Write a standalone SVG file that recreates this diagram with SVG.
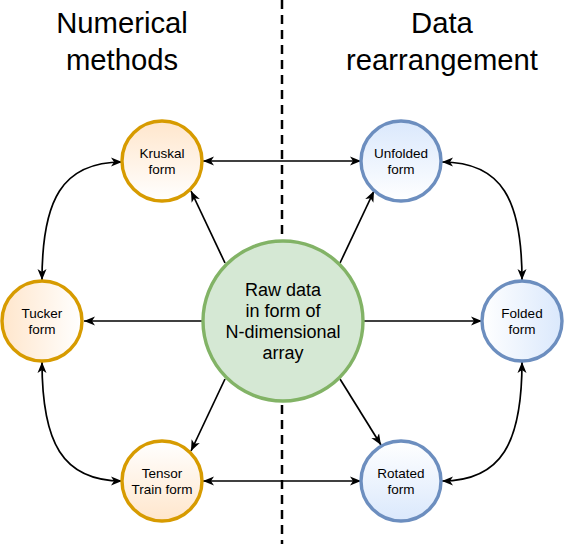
<svg xmlns="http://www.w3.org/2000/svg" width="564" height="544" viewBox="0 0 564 544">
<defs>
<linearGradient id="oN" x1="0" y1="0" x2="0" y2="1"><stop offset="0" stop-color="#ffe6cc"/><stop offset="1" stop-color="#ffffff"/></linearGradient>
<linearGradient id="oS" x1="0" y1="1" x2="0" y2="0"><stop offset="0" stop-color="#ffe6cc"/><stop offset="1" stop-color="#ffffff"/></linearGradient>
<linearGradient id="oW" x1="0" y1="0" x2="1" y2="0"><stop offset="0" stop-color="#ffe6cc"/><stop offset="1" stop-color="#ffffff"/></linearGradient>
<linearGradient id="bN" x1="0" y1="0" x2="0" y2="1"><stop offset="0" stop-color="#dae8fc"/><stop offset="1" stop-color="#ffffff"/></linearGradient>
<linearGradient id="bS" x1="0" y1="1" x2="0" y2="0"><stop offset="0" stop-color="#dae8fc"/><stop offset="1" stop-color="#ffffff"/></linearGradient>
<linearGradient id="bE" x1="1" y1="0" x2="0" y2="0"><stop offset="0" stop-color="#dae8fc"/><stop offset="1" stop-color="#ffffff"/></linearGradient>
<marker id="arr" markerUnits="userSpaceOnUse" markerWidth="12" markerHeight="10" viewBox="0 0 12 10" refX="11" refY="5" orient="auto-start-reverse">
<path d="M0,0.5 L11,5 L0,9.5 L3,5 Z" fill="#000"/>
</marker>
</defs>
<style>
.t{font-family:"Liberation Sans",Arial,sans-serif;fill:#000;text-anchor:middle}
.title{font-size:29.25px}
.nt{font-size:13.5px}
.ct{font-size:18px}
.o{stroke:#d79b00;stroke-width:3.4}
.b{stroke:#6c8ebf;stroke-width:3.4}
.g{stroke:#82b366;stroke-width:3.4;fill:#d5e8d4}
.c{fill:none;stroke:#000;stroke-width:1.7}
</style>
<rect width="564" height="544" fill="#fff"/>
<line x1="282" y1="0" x2="282" y2="544" stroke="#000" stroke-width="2.5" stroke-dasharray="9,6"/>
<g id="title-left">
<text class="t title" x="122" y="33">Numerical</text>
<text class="t title" x="122" y="70">methods</text>
</g>
<g id="title-right">
<text class="t title" x="442" y="33">Data</text>
<text class="t title" x="442" y="70">rearrangement</text>
</g>
<g id="connectors">
<line class="c" x1="225" y1="263" x2="191" y2="191" marker-end="url(#arr)"/>
<line class="c" x1="340" y1="263" x2="374" y2="191" marker-end="url(#arr)"/>
<line class="c" x1="203" y1="321" x2="84" y2="321" marker-end="url(#arr)"/>
<line class="c" x1="363" y1="321" x2="482" y2="321" marker-end="url(#arr)"/>
<line class="c" x1="225" y1="379" x2="191" y2="451" marker-end="url(#arr)"/>
<line class="c" x1="340" y1="379" x2="381" y2="445" marker-end="url(#arr)"/>
<line class="c" x1="203" y1="161" x2="361" y2="161" marker-start="url(#arr)" marker-end="url(#arr)"/>
<line class="c" x1="203" y1="481" x2="361" y2="481" marker-start="url(#arr)" marker-end="url(#arr)"/>
<path class="c" d="M42,280 C42,200 62,162 122,162" marker-start="url(#arr)" marker-end="url(#arr)"/>
<path class="c" d="M42,362 C42,442 62,481 122,481" marker-start="url(#arr)" marker-end="url(#arr)"/>
<path class="c" d="M442,162 C502,162 522,200 522,280" marker-start="url(#arr)" marker-end="url(#arr)"/>
<path class="c" d="M522,362 C522,442 502,481 442,481" marker-start="url(#arr)" marker-end="url(#arr)"/>
</g>
<g id="raw">
<circle class="g" cx="283" cy="321" r="80"/>
<text class="t ct" x="283" y="296">Raw data</text>
<text class="t ct" x="283" y="317">in form of</text>
<text class="t ct" x="283" y="338">N-dimensional</text>
<text class="t ct" x="283" y="359">array</text>
</g>
<g id="kruskal">
<circle class="o" cx="162" cy="161" r="40" fill="url(#oN)"/>
<text class="t nt" x="162" y="158">Kruskal</text>
<text class="t nt" x="162" y="174">form</text>
</g>
<g id="tucker">
<circle class="o" cx="42" cy="321" r="40" fill="url(#oW)"/>
<text class="t nt" x="42" y="318">Tucker</text>
<text class="t nt" x="42" y="334">form</text>
</g>
<g id="tensor">
<circle class="o" cx="162" cy="481" r="40" fill="url(#oS)"/>
<text class="t nt" x="162" y="478">Tensor</text>
<text class="t nt" x="162" y="494">Train form</text>
</g>
<g id="unfolded">
<circle class="b" cx="401" cy="161" r="40" fill="url(#bN)"/>
<text class="t nt" x="401" y="158">Unfolded</text>
<text class="t nt" x="401" y="174">form</text>
</g>
<g id="folded">
<circle class="b" cx="522" cy="321" r="40" fill="url(#bE)"/>
<text class="t nt" x="522" y="318">Folded</text>
<text class="t nt" x="522" y="334">form</text>
</g>
<g id="rotated">
<circle class="b" cx="401" cy="481" r="40" fill="url(#bS)"/>
<text class="t nt" x="401" y="478">Rotated</text>
<text class="t nt" x="401" y="494">form</text>
</g>
</svg>
